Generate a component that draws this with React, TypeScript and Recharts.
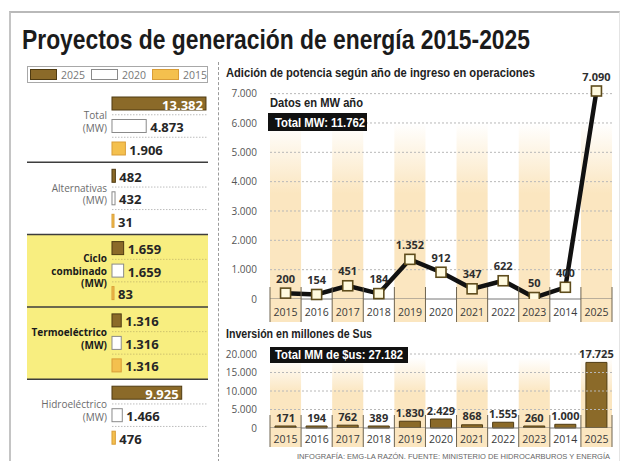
import React from 'react';
import {
  BarChart, Bar, ComposedChart, Line, XAxis, YAxis,
  ReferenceArea, ReferenceLine, LabelList, Legend,
} from 'recharts';

// Left panel: installed capacity per technology (MW)
const groups = ['Total', 'Alternativas', 'Ciclo combinado', 'Termoeléctrico', 'Hidroeléctrico'];
const groupLabelLines = [['Total', '(MW)'], ['Alternativas', '(MW)'], ['Ciclo', 'combinado', '(MW)'], ['Termoeléctrico', '(MW)'], ['Hidroeléctrico', '(MW)']];
const highlightedGroups = ['Ciclo combinado', 'Termoeléctrico'];
const mw2025 = [13382, 482, 1659, 1316, 9925];
const mw2020 = [4873, 432, 1659, 1316, 1466];
const mw2015 = [1906, 31, 83, 1316, 476];

// Right panels: per year of entry into operation
const years = ['2015', '2016', '2017', '2018', '2019', '2020', '2021', '2022', '2023', '2014', '2025'];
const powerAdded = [200, 154, 451, 184, 1352, 912, 347, 622, 50, 400, 7090];
const investment = [171, 194, 762, 389, 1830, 2429, 868, 1555, 260, 1000, 17725];
const powerTicks = [0, 1000, 2000, 3000, 4000, 5000, 6000, 7000];
const investTicks = [0, 5000, 10000, 15000, 20000];
const totalMW = 11762;
const totalInvest = 27182;

const BROWN = '#8b6a29';
const BROWN_DARK = '#4f3b12';
const GOLD = '#f4c04e';
const BAND_YELLOW = '#f8ee80';
const CREAM = '#fbe6c0';
const GRID = '#b8b8b8';

const sans = "'Open Sans', 'Noto Sans', sans-serif";
const headFont = "'Liberation Sans', Arial, sans-serif";

const fmt = (v: number) => String(v).replace(/\B(?=(\d{3})+(?!\d))/g, '.');

const series = [
  { key: 'y2025', name: '2025', fill: BROWN, stroke: BROWN_DARK },
  { key: 'y2020', name: '2020', fill: '#ffffff', stroke: '#8a8a8a' },
  { key: 'y2015', name: '2015', fill: GOLD, stroke: '#d99d38' },
];

const capacityData = groups.map((name, i) => ({ name, y2025: mw2025[i], y2020: mw2020[i], y2015: mw2015[i] }));
const yearData = years.map((year, i) => ({ year, power: powerAdded[i], invest: investment[i] }));

// text squeezed to the width it takes in the original (condensed type)
const FitText = ({ left, baseline, width, size, weight = 700, color = '#222', children }: any) => (
  <svg width={width} height={size * 1.5} style={{ position: 'absolute', left, top: baseline - size * 1.1, overflow: 'visible' }}>
    <text x={0} y={size * 1.1} textLength={width} lengthAdjust="spacingAndGlyphs" fontFamily={headFont}
      fontSize={size} fontWeight={weight} fill={color}>{children}</text>
  </svg>
);

const RowBar = (props: any) => {
  const { x, y, width, height, fill, stroke, background, payload, withRule } = props;
  const hl = highlightedGroups.includes(payload?.name);
  const ruleY = y + height + 4.75;
  return (
    <g>
      <rect x={x} y={y} width={Math.max(width, 0)} height={height} fill={fill} stroke={stroke} strokeWidth={1} />
      {withRule && background && (
        <line x1={x} x2={background.x + background.width} y1={ruleY} y2={ruleY}
          stroke={hl ? '#cfc36e' : '#bdbdbd'} strokeWidth={1} strokeDasharray="1.5 1.5" />
      )}
    </g>
  );
};

const valueLabel = (props: any) => {
  const { x, y, width, height, value } = props;
  const inside = width > 50;
  return (
    <text x={inside ? x + width - 3 : x + width + 4} y={y + height / 2 + 1} textAnchor={inside ? 'end' : 'start'}
      dominantBaseline="central" fill={inside ? '#ffffff' : '#262626'} fontSize={13} fontWeight={700} fontFamily={sans}>
      {fmt(value)}
    </text>
  );
};

const groupLabel = (props: any) => {
  const { x, y, height, value } = props;
  const lines = groupLabelLines[groups.indexOf(value)] || [String(value)];
  const hl = highlightedGroups.includes(value);
  const cy = y + height / 2;
  const start = cy - (lines.length - 1) * 6.25 - (lines.length === 2 ? 4.5 : 0);
  return (
    <text textAnchor="end" dominantBaseline="central" fontFamily={sans} fontSize={10}
      fontWeight={hl ? 700 : 400} fill={hl ? '#1a1a1a' : '#6b6b6b'}>
      {lines.map((l, i) => (
        <tspan key={l} x={x - 5} y={start + i * 12.5}>{l}</tspan>
      ))}
    </text>
  );
};

const legendBox = (props: any) => {
  const payload = [...(props.payload || [])].sort(
    (a: any, b: any) => series.findIndex((s) => s.name === a.value) - series.findIndex((s) => s.name === b.value),
  );
  return (
    <div style={{ height: 24 }}>
      <div style={{ display: 'flex', alignItems: 'center', border: '1px solid #a8a8a8', height: 15, padding: '0 2px' }}>
        {payload.map((entry: any) => {
          const s = series.find((d) => d.name === entry.value);
          return (
            <span key={entry.value} style={{ display: 'flex', alignItems: 'center', marginRight: 6 }}>
              <span style={{ width: 25, height: 9, background: entry.color, border: `1px solid ${s ? s.stroke : '#888'}` }} />
              <span style={{ marginLeft: 4, fontSize: 10.5, color: '#777', fontFamily: sans }}>{entry.value}</span>
            </span>
          );
        })}
      </div>
    </div>
  );
};

const YearTick = (props: any) => {
  const { x, y, payload, index, rise, drop } = props;
  const half = payload.offset;
  const last = index === years.length - 1;
  return (
    <g>
      {index % 2 === 0 && <rect x={x - half} y={y} width={half * 2} height={drop} fill={CREAM} />}
      <line x1={x - half} x2={x - half} y1={y - rise} y2={y + drop} stroke="#6e6450" strokeWidth={1} />
      {last && <line x1={x + half} x2={x + half} y1={y - rise} y2={y + drop} stroke="#6e6450" strokeWidth={1} />}
      <text x={x} y={y + drop / 2 + 1} textAnchor="middle" dominantBaseline="central" fontSize={10.5}
        fontFamily={sans} fill="#3a3a3a">{payload.value}</text>
    </g>
  );
};

const SquareDot = (props: any) => {
  const { cx, cy } = props;
  return <rect x={cx - 5} y={cy - 5} width={10} height={10} fill="#fffadf" stroke="#5e4c1c" strokeWidth={1.6} />;
};

const pointLabel = (props: any) => {
  const { x, y, value } = props;
  return (
    <text x={x} y={y - 15} textAnchor="middle" dominantBaseline="central" fontSize={11} fontWeight={700}
      fontFamily={sans} fill="#2e2e2e">{fmt(value)}</text>
  );
};

const barTopLabel = (props: any) => {
  const { x, y, width, value } = props;
  return (
    <text x={x + width / 2} y={y - 9} textAnchor="middle" dominantBaseline="central" fontSize={11} fontWeight={700}
      fontFamily={sans} fill="#2e2e2e">{fmt(value)}</text>
  );
};

const blackBox: React.CSSProperties = { position: 'absolute', background: '#111' };

export default function App() {
  return (
    <div style={{ position: 'absolute', left: 0, top: 0, width: 627, height: 461, background: '#fff', overflow: 'hidden', fontFamily: sans }}>
      <div style={{ position: 'absolute', left: 9, top: 11, width: 608, height: 460, borderTop: '2px solid #b9b9b9', borderLeft: '2px solid #c4c4c4', borderRight: '1px solid #e4e4e4' }} />
      <FitText left={22} baseline={48.5} width={508} size={27} color="#1b1b1b">Proyectos de generación de energía 2015-2025</FitText>
      <div style={{ position: 'absolute', left: 218, top: 62, height: 400, borderLeft: '1px dashed #9a9a9a' }} />

      {/* Left: capacity by technology */}
      <div style={{ position: 'absolute', left: 25, top: 56 }}>
        <BarChart width={183} height={399} data={capacityData} layout="vertical" barSize={13} barGap={9.5}
          margin={{ top: 10, right: 0, left: 2, bottom: 3.5 }}>
          <XAxis type="number" hide domain={[-12100, 13670]} />
          <YAxis type="category" dataKey="name" hide />
          <Legend verticalAlign="top" align="left" content={legendBox} wrapperStyle={{ top: 10, left: 2, width: 181 }} />
          <ReferenceArea y1="Ciclo combinado" y2="Termoeléctrico" fill={BAND_YELLOW} fillOpacity={1} stroke="none" />
          {groups.slice(1).map((g) => (
            <ReferenceLine key={g} y={g} position="start" stroke="#3d3d3d" strokeWidth={1.5} />
          ))}
          {series.map((s, i) => (
            <Bar key={s.key} dataKey={s.key} name={s.name} fill={s.fill} stroke={s.stroke} minPointSize={2}
              isAnimationActive={false} shape={(p: any) => <RowBar {...p} withRule={i < 2} />}>
              <LabelList dataKey={s.key} content={valueLabel} />
              {i === 1 && <LabelList dataKey="name" content={groupLabel} />}
            </Bar>
          ))}
        </BarChart>
      </div>

      {/* Right top: power added per year */}
      <div style={{ position: 'absolute', left: 220, top: 55 }}>
        <ComposedChart width={400} height={275} data={yearData} margin={{ top: 36, right: 8, left: 0, bottom: 5 }}>
          <defs>
            <linearGradient id="fadeTop" x1="0" y1="0" x2="0" y2="1">
              <stop offset="0%" stopColor={CREAM} stopOpacity={0} />
              <stop offset="40%" stopColor={CREAM} stopOpacity={1} />
              <stop offset="100%" stopColor={CREAM} stopOpacity={1} />
            </linearGradient>
          </defs>
          {years.filter((_, i) => i % 2 === 0).map((yr) => (
            <ReferenceArea key={yr} x1={yr} x2={yr} y1={0} y2={6000} fill="url(#fadeTop)" fillOpacity={1} stroke="none" />
          ))}
          {powerTicks.slice(1).map((t) => (
            <ReferenceLine key={t} y={t} stroke={GRID} strokeDasharray="2 2" />
          ))}
          <XAxis dataKey="year" scale="band" interval={0} tickSize={0} tickMargin={0} height={26} axisLine={{ stroke: '#777' }}
            tickLine={false} tick={(p: any) => <YearTick {...p} rise={12} drop={23} />} />
          <YAxis width={50} domain={[0, 7000]} ticks={powerTicks} tickFormatter={fmt} axisLine={false} tickLine={false}
            tickSize={0} tickMargin={13} tick={{ fontSize: 10, fill: '#555', fontFamily: sans }} />
          <Line dataKey="power" stroke="#111" strokeWidth={4.5} isAnimationActive={false}
            dot={(p: any) => <SquareDot key={p.index} {...p} />} activeDot={false}>
            <LabelList dataKey="power" content={pointLabel} />
          </Line>
        </ComposedChart>
      </div>

      {/* Right bottom: investment per year */}
      <div style={{ position: 'absolute', left: 220, top: 335 }}>
        <ComposedChart width={400} height={115} data={yearData} margin={{ top: 19, right: 8, left: 0, bottom: 2 }}>
          <defs>
            <linearGradient id="fadeTopInv" x1="0" y1="0" x2="0" y2="1">
              <stop offset="0%" stopColor={CREAM} stopOpacity={0} />
              <stop offset="50%" stopColor={CREAM} stopOpacity={1} />
              <stop offset="100%" stopColor={CREAM} stopOpacity={1} />
            </linearGradient>
          </defs>
          {years.filter((_, i) => i % 2 === 0).map((yr) => (
            <ReferenceArea key={yr} x1={yr} x2={yr} y1={0} y2={19000} fill="url(#fadeTopInv)" fillOpacity={1} stroke="none" />
          ))}
          {investTicks.slice(1).map((t) => (
            <ReferenceLine key={t} y={t} stroke={GRID} strokeDasharray="2 2" />
          ))}
          <XAxis dataKey="year" interval={0} tickSize={0} tickMargin={0} height={20} axisLine={{ stroke: '#777' }}
            tickLine={false} tick={(p: any) => <YearTick {...p} rise={13} drop={19} />} />
          <YAxis width={50} domain={[0, 20000]} ticks={investTicks} tickFormatter={fmt} axisLine={false} tickLine={false}
            tickSize={0} tickMargin={13} tick={{ fontSize: 10, fill: '#555', fontFamily: sans }} />
          <Bar dataKey="invest" barSize={21} fill={BROWN} stroke={BROWN_DARK} minPointSize={2} isAnimationActive={false}>
            <LabelList dataKey="invest" content={barTopLabel} />
          </Bar>
        </ComposedChart>
      </div>

      <FitText left={226} baseline={77} width={309} size={12}>Adición de potencia según año de ingreso en operaciones</FitText>
      <FitText left={270} baseline={107} width={93} size={12}>Datos en MW año</FitText>
      <div style={{ ...blackBox, left: 268, top: 113, width: 99, height: 18 }} />
      <FitText left={275} baseline={126.5} width={90} size={12.5} color="#ffffff">Total MW: {fmt(totalMW)}</FitText>
      <FitText left={226} baseline={338} width={146} size={12}>Inversión en millones de Sus</FitText>
      <div style={{ ...blackBox, left: 270, top: 347, width: 138, height: 16 }} />
      <FitText left={275} baseline={359.5} width={128} size={12} color="#ffffff">Total MM de $us: {fmt(totalInvest)}</FitText>
      <FitText left={297} baseline={459} width={313} size={7.5} weight={400} color="#666">
        INFOGRAFÍA: EMG-LA RAZÓN. FUENTE: MINISTERIO DE HIDROCARBUROS Y ENERGÍA
      </FitText>
    </div>
  );
}
